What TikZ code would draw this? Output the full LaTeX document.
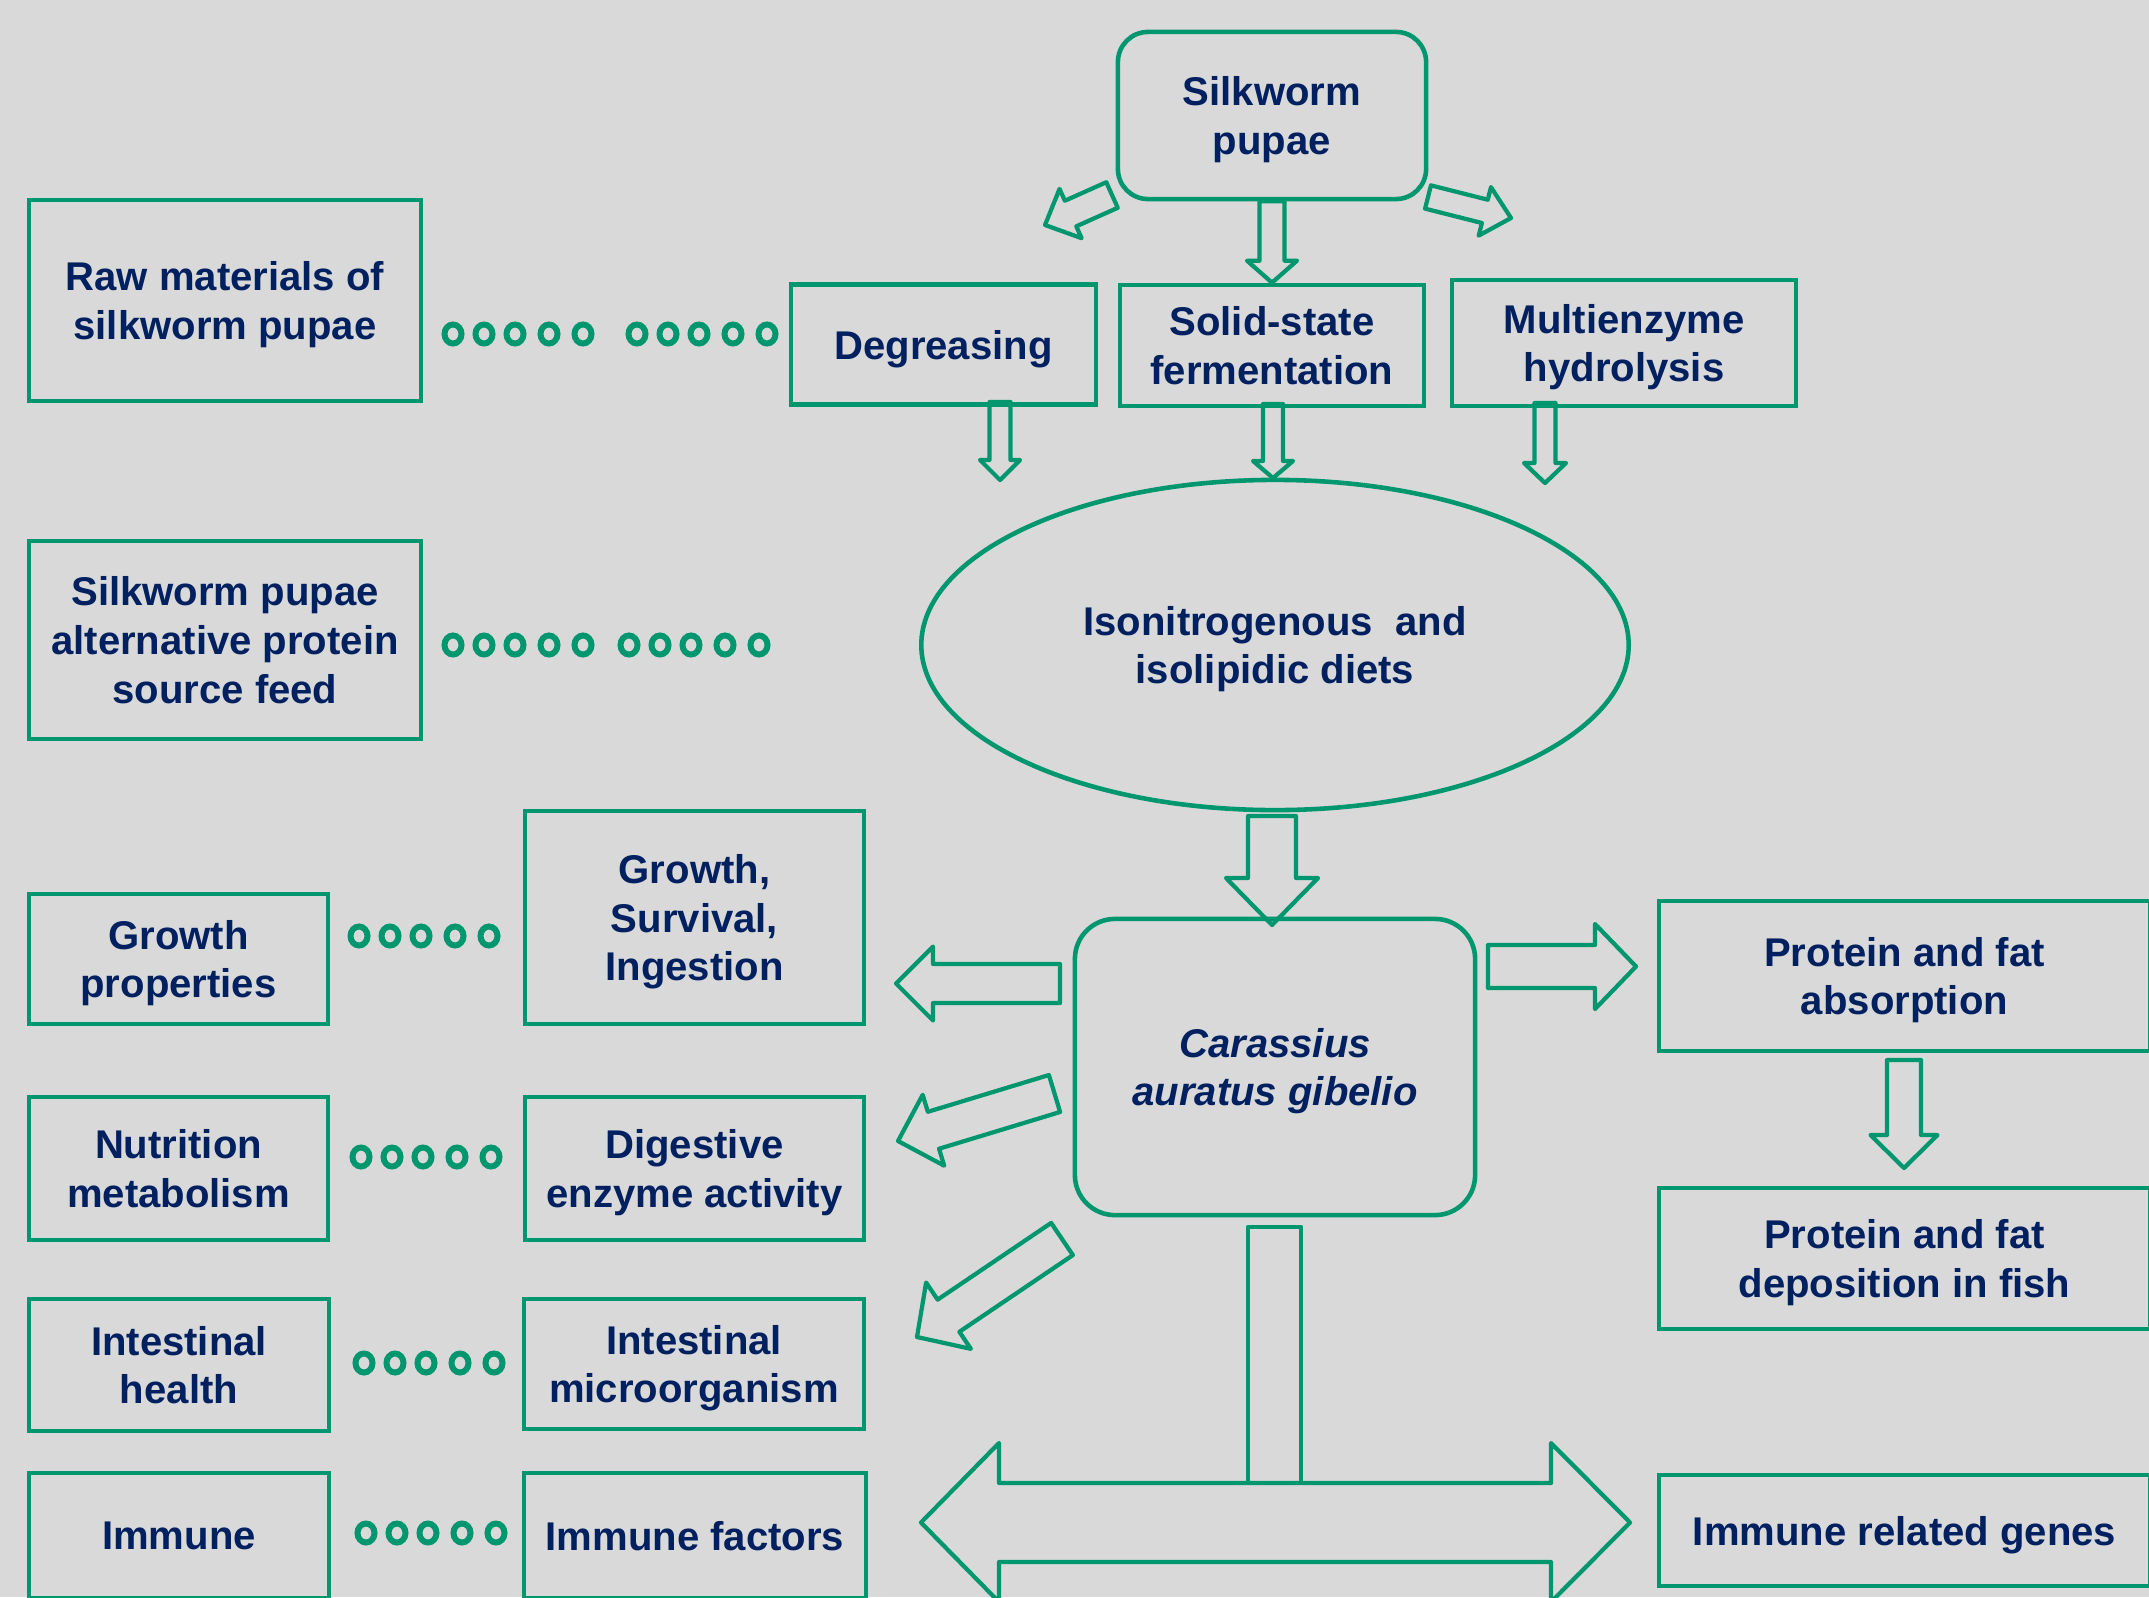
\documentclass[tikz,border=0pt]{standalone}
\usepackage{fontspec}
\setmainfont{Liberation Sans}
\usepackage{xcolor}
\usetikzlibrary{calc,positioning,shapes.geometric}
\definecolor{leafgreen}{RGB}{0,150,110}
\definecolor{navyblue}{RGB}{0,32,96}
\definecolor{paper}{RGB}{217,217,217}
\newcommand{\labelfont}{\fontsize{11.4}{13.9}\selectfont\bfseries}
% block arrow: tail, tip, shaft half width, head half width, head length
\newcommand{\blockarrow}[5]{%
  \coordinate (ah) at ($(#2)!#5!(#1)$);
  \draw[fatarrow] ($(#1)!#3!90:(#2)$) -- ($(ah)!#3!-90:(#1)$) -- ($(ah)!#4!-90:(#1)$)
    -- (#2) -- ($(ah)!#4!90:(#1)$) -- ($(ah)!#3!90:(#1)$) -- ($(#1)!#3!-90:(#2)$) -- cycle;
}

\begin{document}
\begin{tikzpicture}[x=0.01cm, y=-0.01cm,
boxednode/.style={rectangle, draw=leafgreen, line width=1.3pt, text=navyblue, font=\labelfont, align=center, inner sep=0pt, text depth=0pt},
roundednode/.style={boxednode, rounded corners=0.3cm},
ovalnode/.style={ellipse, draw=leafgreen, line width=1.3pt, text=navyblue, font=\labelfont, align=center, inner sep=0pt, text depth=0pt},
fatarrow/.style={draw=leafgreen, line width=1.2pt, line join=round},
ringdot/.style={draw=leafgreen, line width=1.7pt},
]
\useasboundingbox (0,0) rectangle (2149,1597);
\clip (0,0) rectangle (2149,1597);
\fill[paper] (0,0) rectangle (2149,1597);

%Nodes
\node[roundednode, minimum width=3.08cm, minimum height=1.67cm] (pupae) at (1272,115.5) {Silkworm\\pupae};
\node[boxednode, minimum width=3.92cm, minimum height=2.01cm] (raw) at (225,300.5) {Raw materials of\\silkworm pupae};
\node[boxednode, minimum width=3.05cm, minimum height=1.20cm] (degreasing) at (943.5,344.5) {Degreasing};
\node[boxednode, minimum width=3.04cm, minimum height=1.21cm] (solid) at (1272,345.5) {Solid-state\\fermentation};
\node[boxednode, minimum width=3.44cm, minimum height=1.26cm] (enzyme) at (1624,343) {Multienzyme\\hydrolysis};
\node[boxednode, minimum width=3.92cm, minimum height=1.98cm] (altfeed) at (225,640) {Silkworm pupae\\alternative protein\\source feed};
\node[ovalnode, minimum width=7.07cm, minimum height=3.30cm] (diets) at (1275,645) {Isonitrogenous\ \ and\\isolipidic diets};

\node[boxednode, minimum width=2.99cm, minimum height=1.30cm] (growth) at (178.5,959) {Growth\\properties};
\node[boxednode, minimum width=3.39cm, minimum height=2.13cm] (survival) at (694.5,917.5) {Growth,\\Survival,\\Ingestion};
\node[roundednode, rounded corners=0.4cm, minimum width=4.00cm, minimum height=2.96cm, font=\labelfont\itshape] (fish) at (1275,1067) {Carassius\\auratus gibelio};
\node[boxednode, minimum width=4.91cm, minimum height=1.50cm] (absorb) at (1904.5,976) {Protein and fat\\absorption};
\node[boxednode, minimum width=4.91cm, minimum height=1.41cm] (deposit) at (1904.5,1258.5) {Protein and fat\\deposition in fish};
\node[boxednode, minimum width=2.99cm, minimum height=1.43cm] (nutrition) at (178.5,1168.5) {Nutrition\\metabolism};
\node[boxednode, minimum width=3.39cm, minimum height=1.43cm] (enzact) at (694.5,1168.5) {Digestive\\enzyme activity};
\node[boxednode, minimum width=3.00cm, minimum height=1.32cm] (gut) at (179,1365) {Intestinal\\health};
\node[boxednode, minimum width=3.40cm, minimum height=1.30cm] (microbe) at (694,1364) {Intestinal\\microorganism};
\node[boxednode, minimum width=3.00cm, minimum height=1.25cm] (immune) at (179,1535.5) {Immune};
\node[boxednode, minimum width=3.42cm, minimum height=1.25cm] (factors) at (695,1535.5) {Immune factors};
\node[boxednode, minimum width=4.91cm, minimum height=1.11cm] (genes) at (1904.5,1530.5) {Immune related genes};

%Dots
\foreach \x in {453,637}
  \foreach \dx in {0,31,62,96,130}
    \draw[ringdot] ({\x+\dx},334) ellipse [x radius=0.085cm, y radius=0.095cm];
\foreach \x in {453,629}
  \foreach \dx in {0,31,62,96,130}
    \draw[ringdot] ({\x+\dx},645) ellipse [x radius=0.085cm, y radius=0.095cm];
\foreach \x/\y in {359/936,361/1157,364/1363,366/1533}
  \foreach \dx in {0,31,62,96,130}
    \draw[ringdot] ({\x+\dx},\y) ellipse [x radius=0.085cm, y radius=0.095cm];

%Arrows
\coordinate (pupae-l) at (1112,195);   \coordinate (degreasing-in) at (1045,225);
\coordinate (pupae-r) at (1428,197);   \coordinate (enzyme-in) at (1511,218);
\coordinate (degreasing-out) at (1000,402); \coordinate (diets-l) at (1000,480);
\coordinate (solid-out) at (1273,404);      \coordinate (diets-in) at (1273,478);
\coordinate (enzyme-out) at (1545,403);     \coordinate (diets-r) at (1545,483);
\coordinate (diets-out) at (1272,816);      \coordinate (fish-in) at (1272,925);
\coordinate (fish-l) at (1060,983.5);       \coordinate (survival-in) at (896,983.5);
\coordinate (fish-r) at (1488,966.5);       \coordinate (absorb-in) at (1636,966.5);
\coordinate (fish-dl) at (1054.5,1093.5);   \coordinate (enzact-in) at (898,1141);
\coordinate (fish-ddl) at (1062,1239);      \coordinate (microbe-in) at (917,1337);
\coordinate (absorb-out) at (1904,1060);    \coordinate (deposit-in) at (1904,1168);

\blockarrow{pupae-l}{degreasing-in}{0.14cm}{0.27cm}{0.28cm}
\blockarrow{pupae-r}{enzyme-in}{0.12cm}{0.25cm}{0.27cm}
\blockarrow{pupae.south}{solid.north}{0.125cm}{0.25cm}{0.22cm}
\blockarrow{degreasing-out}{diets-l}{0.105cm}{0.20cm}{0.20cm}
\blockarrow{solid-out}{diets-in}{0.10cm}{0.20cm}{0.17cm}
\blockarrow{enzyme-out}{diets-r}{0.105cm}{0.21cm}{0.20cm}
\blockarrow{diets-out}{fish-in}{0.24cm}{0.46cm}{0.47cm}
\blockarrow{fish-l}{survival-in}{0.195cm}{0.37cm}{0.37cm}
\blockarrow{fish-r}{absorb-in}{0.215cm}{0.425cm}{0.41cm}
\blockarrow{fish-dl}{enzact-in}{0.193cm}{0.37cm}{0.37cm}
\blockarrow{fish-ddl}{microbe-in}{0.194cm}{0.40cm}{0.38cm}
\blockarrow{absorb-out}{deposit-in}{0.17cm}{0.335cm}{0.33cm}

%Stem and double arrow
\coordinate (stem-top) at (1248,1227);
\coordinate (stem-bot) at (1301,1483);
\draw[fatarrow] (stem-top) rectangle (stem-bot);
\draw[fatarrow] (921,1522.5) -- (999,1443) -- (999,1483) -- (1551,1483) -- (1551,1443)
  -- (1630,1522.5) -- (1551,1602) -- (1551,1562) -- (999,1562) -- (999,1602) -- cycle;
\end{tikzpicture}
\end{document}
